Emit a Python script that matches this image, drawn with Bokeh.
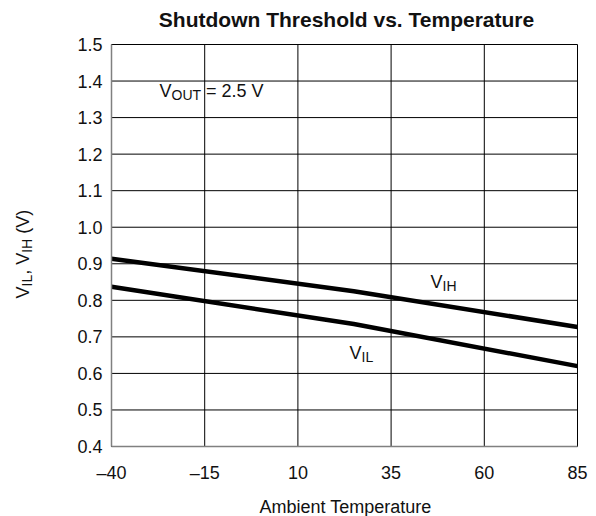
import math
from bokeh.plotting import figure
from bokeh.models import Label, FixedTicker, Range1d, ColumnDataSource
from bokeh.embed import file_html
from bokeh.resources import INLINE

# ---------------- data ----------------
title_text = "Shutdown Threshold vs. Temperature"
x_axis_text = "Ambient Temperature"
temperature = [-40, 25, 85]
v_ih = [0.914, 0.825, 0.727]
v_il = [0.837, 0.735, 0.620]
x_ticks = [-40, -15, 10, 35, 60, 85]
x_tick_labels = ["\u201340", "\u201315", "10", "35", "60", "85"]
y_ticks = [0.4, 0.5, 0.6, 0.7, 0.8, 0.9, 1.0, 1.1, 1.2, 1.3, 1.4, 1.5]
y_tick_labels = ["0.4", "0.5", "0.6", "0.7", "0.8", "0.9", "1.0", "1.1", "1.2", "1.3", "1.4", "1.5"]

# ---------------- layout (pixels) ----------------
WIDTH, HEIGHT = 596, 516
FRAME_L, FRAME_R, FRAME_T, FRAME_B = 111, 577, 44, 446
FONT = "Liberation Sans"
MAIN = 18
SUB = 14
DROP = 4
SHIFT = 7          # correction between requested and drawn baseline
TXT = "#111111"

xmin, xmax = x_ticks[0], x_ticks[-1]
ymin, ymax = y_ticks[0], y_ticks[-1]
kx = (FRAME_R - FRAME_L) / (xmax - xmin)
ky = (FRAME_B - FRAME_T) / (ymax - ymin)
X0 = xmin - FRAME_L / kx
X1 = xmax + (WIDTH - FRAME_R) / kx
Y1 = ymax + FRAME_T / ky
Y0 = ymin - (HEIGHT - FRAME_B) / ky


def px_x(px):
    return X0 + px / kx


def px_y(py):
    return Y1 - py / ky


# Arial / Liberation Sans advance widths (per em)
W = {"V": .667, "I": .278, "L": .556, "H": .722, "O": .778, "U": .722, "T": .611,
     ",": .278, " ": .278, "(": .333, ")": .333, "=": .584, "2": .556, ".": .278, "5": .556}


def text_width(s, size):
    return sum(W.get(c, .556) for c in s) * size


p = figure(width=WIDTH, height=HEIGHT, output_backend="svg", toolbar_location=None,
           x_range=Range1d(X0, X1), y_range=Range1d(Y0, Y1),
           min_border=0, min_border_left=0, min_border_right=0,
           min_border_top=0, min_border_bottom=0)
p.outline_line_color = None
p.xgrid.visible = False
p.ygrid.visible = False
p.background_fill_color = "white"
p.border_fill_color = "white"

# grid (drawn from the tick lists)
p.segment(x0=x_ticks, y0=[ymin] * len(x_ticks), x1=x_ticks, y1=[ymax] * len(x_ticks),
          line_color="black", line_width=1)
p.segment(x0=[xmin] * len(y_ticks), y0=y_ticks, x1=[xmax] * len(y_ticks), y1=y_ticks,
          line_color="black", line_width=1)

src = ColumnDataSource(dict(t=temperature, ih=v_ih, il=v_il))
p.line("t", "ih", source=src, line_width=4.5, line_color="black")
p.line("t", "il", source=src, line_width=4.5, line_color="black")

p.xaxis.fixed_location = ymin
p.yaxis.fixed_location = xmin
p.xaxis.bounds = (xmin, xmax)
p.yaxis.bounds = (ymin, ymax)
p.xaxis.ticker = FixedTicker(ticks=x_ticks)
p.yaxis.ticker = FixedTicker(ticks=y_ticks)
p.xaxis.major_label_overrides = dict(zip(x_ticks, x_tick_labels))
p.yaxis.major_label_overrides = dict(zip(y_ticks, y_tick_labels))
for ax in (p.xaxis, p.yaxis):
    ax.major_tick_line_color = None
    ax.minor_tick_line_color = None
    ax.axis_line_color = "#808080"
    ax.axis_line_width = 1.5
    ax.major_label_text_font = FONT
    ax.major_label_text_font_size = "18px"
    ax.major_label_text_color = TXT
p.xaxis.major_label_standoff = 10
p.yaxis.major_label_standoff = 3


def add_label(text, x, y, size, align="left", style="normal", angle=0.0, xo=0.0, yo=0.0):
    lab = Label(x=x, y=y, text=text, x_offset=xo, y_offset=yo, angle=angle)
    lab.text_font = FONT
    lab.text_font_size = f"{size}px"
    lab.text_font_style = style
    lab.text_color = TXT
    lab.text_align = align
    lab.text_baseline = "alphabetic"
    p.add_layout(lab)


def compound(pieces, x, y, rotated=False):
    adv = 0.0
    for txt, sub in pieces:
        size = SUB if sub else MAIN
        drop = DROP if sub else 0
        body = txt.lstrip(" ")
        adv += (len(txt) - len(body)) * W[" "] * size
        if rotated:
            add_label(body, x, y, size, angle=math.pi / 2, xo=drop - SHIFT, yo=adv)
        else:
            add_label(body, x, y, size, xo=adv, yo=SHIFT - drop)
        adv += text_width(body, size)


# title
add_label(title_text, px_x(346), px_y(26), 21, align="center", style="bold", yo=SHIFT)

# curve labels and condition note
compound([("V", False), ("IH", True)], px_x(430), px_y(288))
compound([("V", False), ("IL", True)], px_x(349), px_y(359))
compound([("V", False), ("OUT", True), (" = 2.5 V", False)], px_x(159), px_y(97))

# y axis label (rotated, with subscripts)
compound([("V", False), ("IL", True), (", V", False), ("IH", True), (" (V)", False)],
         px_x(29), px_y(298), rotated=True)

# x axis label
add_label(x_axis_text, px_x(345), px_y(513), 18, align="center", yo=SHIFT)

open("out.html", "w").write(file_html(p, INLINE))
